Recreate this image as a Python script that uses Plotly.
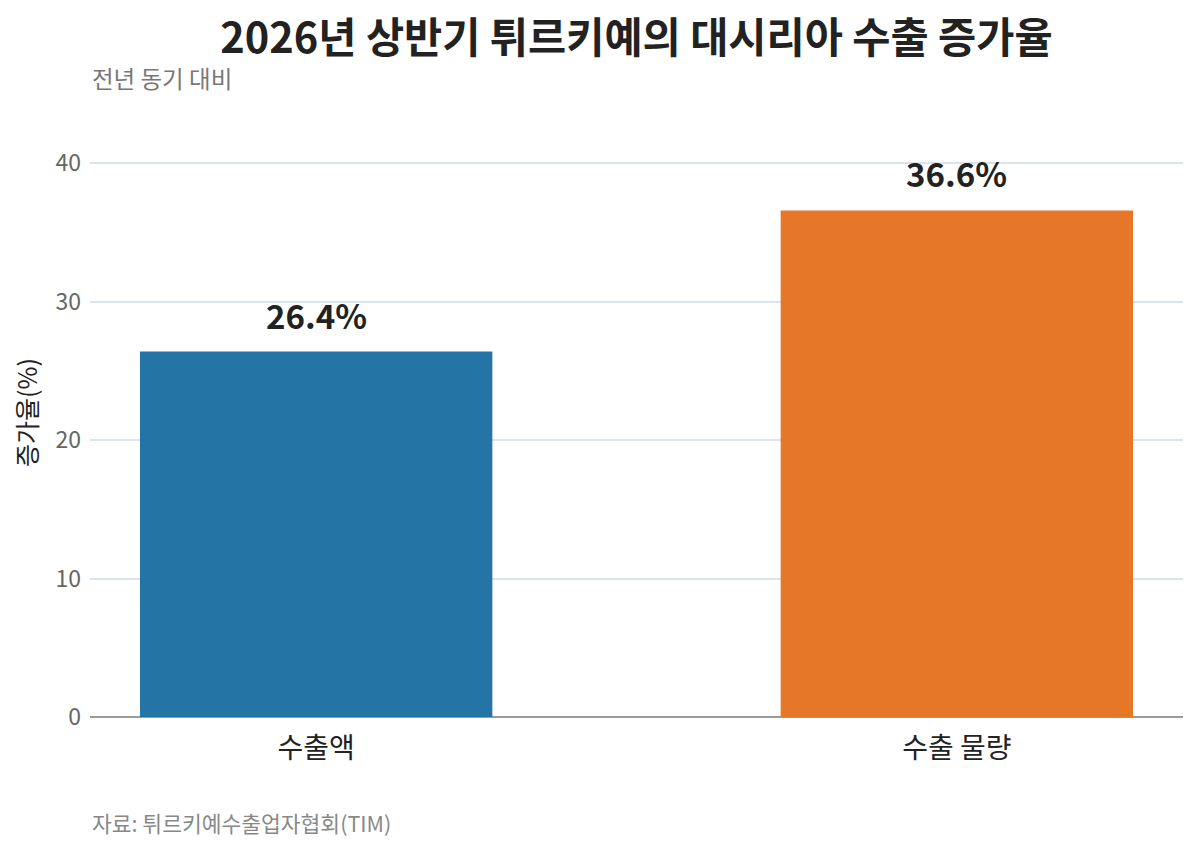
import plotly.graph_objects as go

categories = ["수출액", "수출 물량"]
values = [26.4, 36.6]
labels = ["26.4%", "36.6%"]
colors = ["#2574a6", "#e77728"]
y_ticks = [0, 10, 20, 30, 40]

FONT = "Noto Sans CJK KR"

fig = go.Figure()
fig.add_trace(go.Bar(
    x=[0, 1], y=values, marker_color=colors, marker_line_width=0, width=0.55,
    hoverinfo="skip", showlegend=False,
))
for i, (v, t) in enumerate(zip(values, labels)):
    fig.add_annotation(x=i, y=v, text=f"<b>{t}</b>", showarrow=False,
                       yanchor="bottom", yshift=11,
                       font=dict(family=FONT, size=33, color="#222222"))

fig.update_layout(
    width=1200, height=853,
    margin=dict(l=90, r=17, t=108, b=136),
    paper_bgcolor="white", plot_bgcolor="white",
    font=dict(family=FONT),
    title=dict(text="<b>2026년 상반기 튀르키예의 대시리아 수출 증가율</b>",
               x=0.5, xref="paper", xanchor="center", y=0.955, yanchor="middle",
               font=dict(family=FONT, size=41.5, color="#222222")),
    xaxis=dict(range=[-0.353, 1.353], tickmode="array", tickvals=[0, 1],
               ticktext=categories, showgrid=False, zeroline=False,
               showline=False, ticks="", ticklabelstandoff=12,
               tickfont=dict(family=FONT, size=28, color="#222222")),
    yaxis=dict(range=[0, 44], tickvals=y_ticks, showgrid=True,
               gridcolor="#dde3ec", gridwidth=1.5, zeroline=True,
               zerolinecolor="#9a9a9a", zerolinewidth=1.5,
               showline=False, ticks="", ticklabelstandoff=8,
               tickfont=dict(family=FONT, size=23, color="#666666"),
               title=dict(text="증가율(%)", standoff=10,
                          font=dict(family=FONT, size=25, color="#222222"))),
)
fig.add_annotation(text="전년 동기 대비", xref="paper", yref="paper", x=0, y=1,
                   xanchor="left", yanchor="middle", yshift=108 - 78,
                   showarrow=False, font=dict(family=FONT, size=23.5, color="#777777"))
fig.add_annotation(text="자료: 튀르키예수출업자협회(TIM)", xref="paper", yref="paper",
                   x=0, y=0, xanchor="left", yanchor="middle", yshift=-(822 - 717),
                   showarrow=False, font=dict(family=FONT, size=21.5, color="#888888"))

fig.write_html("out.html")
